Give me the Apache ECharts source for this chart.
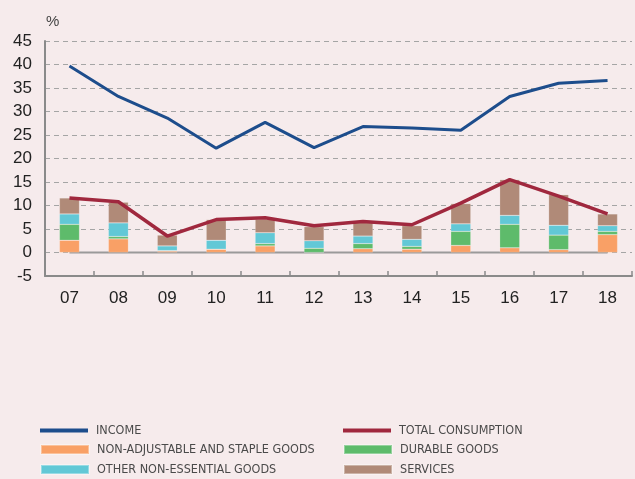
<!DOCTYPE html>
<html>
<head>
<meta charset="utf-8">
<script src="https://cdn.jsdelivr.net/npm/echarts@6/dist/echarts.min.js"></script>
<style>
  html, body { margin: 0; padding: 0; background: #f6ebec; }
  #chart { width: 635px; height: 479px; }
</style>
</head>
<body>
<div id="chart"></div>
<script>
var years = ['07', '08', '09', '10', '11', '12', '13', '14', '15', '16', '17', '18'];
var yTicks = [-5, 45, 5]; // min, max, interval
var income = [39.7, 33.2, 28.6, 22.2, 27.7, 22.3, 26.8, 26.5, 26.0, 33.2, 36.0, 36.6];
var totalConsumption = [11.6, 10.8, 3.5, 7.0, 7.4, 5.7, 6.6, 5.9, 10.5, 15.5, 12.0, 8.2];
var stapleGoods = [2.6, 2.9, 0.3, 0.7, 1.4, 0.0, 0.8, 0.7, 1.5, 1.0, 0.6, 3.8];
var durableGoods = [3.4, 0.5, 0.1, 0.0, 0.5, 0.9, 1.1, 0.6, 3.0, 5.0, 3.1, 0.7];
var otherGoods = [2.2, 2.9, 1.0, 1.9, 2.3, 1.6, 1.6, 1.5, 1.6, 1.9, 2.1, 1.2];
var services = [3.4, 4.4, 2.3, 4.4, 2.9, 3.0, 2.9, 2.9, 4.3, 7.6, 6.5, 2.5];
var zeroLine = [0, 0, 0, 0, 0, 0, 0, 0, 0, 0, 0, 0];

var names = ['INCOME', 'TOTAL CONSUMPTION', 'NON-ADJUSTABLE AND STAPLE GOODS',
             'DURABLE GOODS', 'OTHER NON-ESSENTIAL GOODS', 'SERVICES'];

var labelFont = '"Liberation Sans", Arial, sans-serif';

var myChart = echarts.init(document.getElementById('chart'));

function barSeries(name, data, color){
    return {
        name : name,
        type : 'bar',
        stack : 'cons',
        barWidth : 20,
        data : data,
        itemStyle : { color : color, borderColor : 'rgba(255,255,255,0.35)', borderWidth : 0.5 },
        z : 2
    };
}

// one legend per item so the two columns sit where they do in the picture
var legendPos = [[40, 424], [343, 424], [40, 443], [343, 443], [40, 463], [343, 463]];
var legends = [];
for (var i = 0; i < names.length; i++) {
    legends.push({
        data : [names[i]],
        left : legendPos[i][0],
        top : legendPos[i][1],
        padding : 0,
        itemWidth : 48,
        itemHeight : i < 2 ? 4 : 9, // lines thin, bars thick
        itemGap : 0,
        icon : 'rect',
        selectedMode : false,
        textStyle : {
            fontFamily : '"DejaVu Sans Condensed", "Liberation Sans Narrow", sans-serif',
            fontSize : 12.5,
            color : '#4a4a4a',
            padding : [0, 0, 0, 3]
        }
    });
}

var option = {
    backgroundColor : '#f6ebec',
    animation : false,
    legend : legends,
    grid : {
        left : 45,
        right : 3,
        top : 41,
        bottom : 203
    },
    graphic : [{
        type : 'text',
        left : 46,
        top : 14,
        style : { text : '%', fontSize : 15, fill : '#444', fontFamily : labelFont }
    }],
    xAxis : {
        type : 'category',
        data : years,
        boundaryGap : true,
        axisLine : { onZero : false, lineStyle : { color : '#8a8a8a', width : 2 } },
        axisTick : { show : true, inside : true, length : 5, lineStyle : { color : '#8a8a8a', width : 1.5 } },
        axisLabel : { fontSize : 17, color : '#222', margin : 14, fontFamily : labelFont },
        splitLine : { show : false }
    },
    yAxis : {
        type : 'value',
        min : yTicks[0],
        max : yTicks[1],
        interval : yTicks[2],
        axisLine : { show : true, lineStyle : { color : '#8a8a8a', width : 2 } },
        axisTick : { show : false },
        axisLabel : { fontSize : 17, color : '#222', margin : 13, fontFamily : labelFont },
        splitLine : { show : true, lineStyle : { color : '#a5a5a5', type : [5, 4], width : 1 } }
    },
    series : [
        {
            name : 'zero',
            type : 'line',
            data : zeroLine,
            symbol : 'none',
            silent : true,
            lineStyle : { color : '#9a9a9a', width : 2 },
            z : 1
        },
        barSeries(names[2], stapleGoods, '#f9a066'),
        barSeries(names[3], durableGoods, '#5ebb6b'),
        barSeries(names[4], otherGoods, '#62c8d6'),
        barSeries(names[5], services, '#b08a78'),
        {
            name : names[0],
            type : 'line',
            data : income,
            symbol : 'none',
            lineStyle : { color : '#1d4d8c', width : 3 },
            itemStyle : { color : '#1d4d8c' },
            z : 5
        },
        {
            name : names[1],
            type : 'line',
            data : totalConsumption,
            symbol : 'none',
            lineStyle : { color : '#a0283e', width : 3.5 },
            itemStyle : { color : '#a0283e' },
            z : 5
        }
    ]
};

myChart.setOption(option);
</script>
</body>
</html>
